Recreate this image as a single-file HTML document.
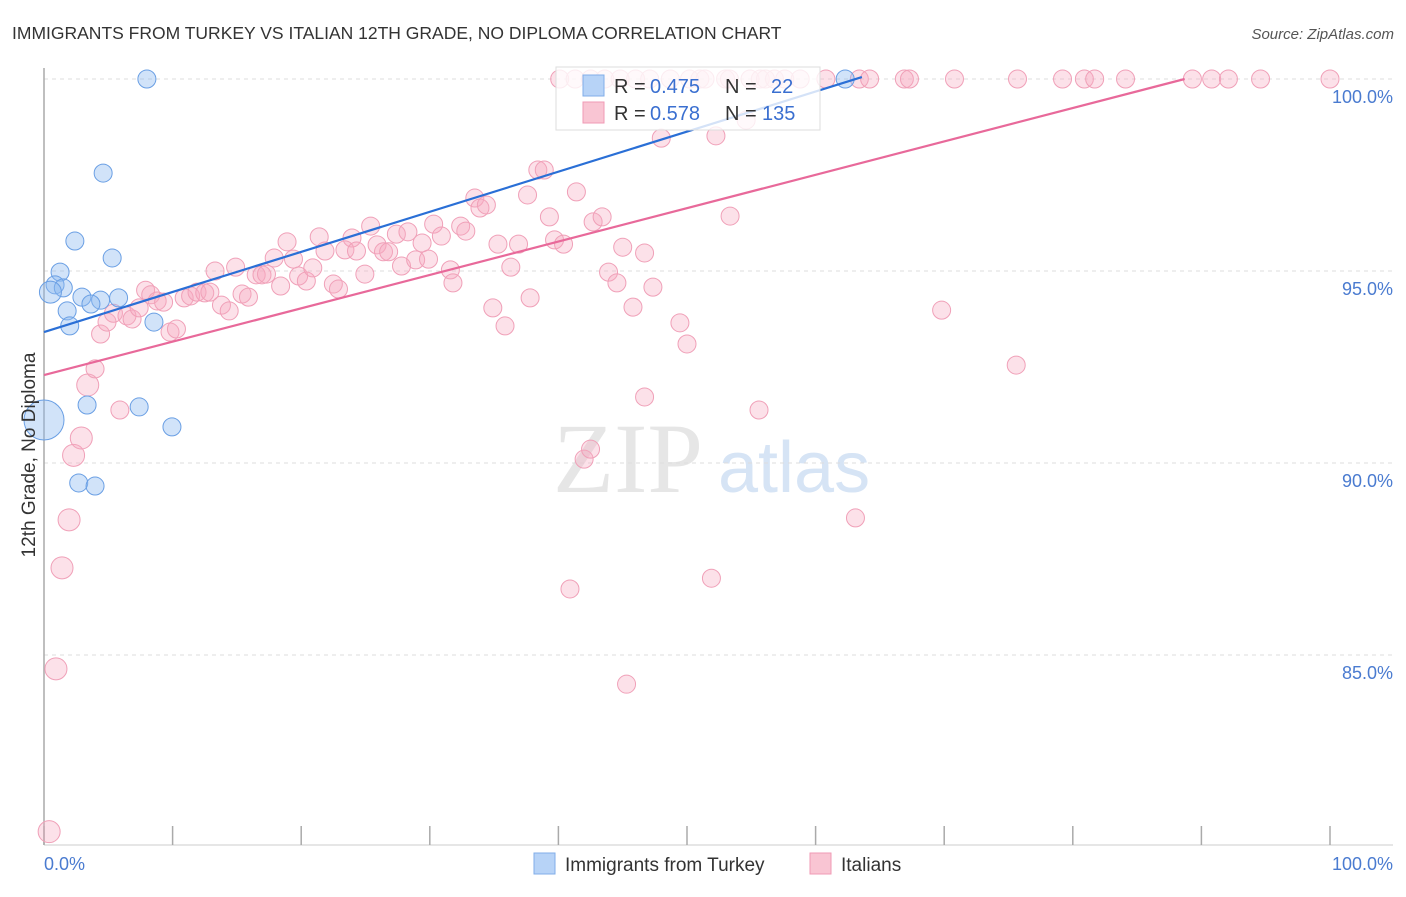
<!DOCTYPE html>
<html><head><meta charset="utf-8"><style>
body{margin:0;background:#fff;font-family:"Liberation Sans",sans-serif;}
</style></head><body>
<svg width="1406" height="892" xmlns="http://www.w3.org/2000/svg" style="font-family:'Liberation Sans',sans-serif">
<text x="12" y="39" font-size="17.5" fill="#333">IMMIGRANTS FROM TURKEY VS ITALIAN 12TH GRADE, NO DIPLOMA CORRELATION CHART</text>
<text x="1394" y="39" font-size="15" fill="#555" font-style="italic" text-anchor="end">Source: ZipAtlas.com</text>
<g>
<text x="553" y="492" font-size="100" font-family="'Liberation Serif',serif" fill="#e6e6e6">ZIP</text>
<text x="718" y="492" font-size="72" fill="#d6e4f5">atlas</text>
</g>
<g id="grid"></g>
<g id="axes"></g>
<g id="marks"></g>
<g>
<rect x="556" y="67" width="264" height="63" fill="#fff" fill-opacity="0.8" stroke="#ddd"/>
<rect x="583" y="75" width="21" height="21" fill="#b7d3f7" stroke="#80aee8"/>
<text x="614" y="93" font-size="20" fill="#333">R =</text>
<text x="650" y="93" font-size="20" fill="#3a6fd0">0.475</text>
<text x="725" y="93" font-size="20" fill="#333">N =</text>
<text x="771" y="93" font-size="20" fill="#3a6fd0">22</text>
<rect x="583" y="102" width="21" height="21" fill="#f9c5d3" stroke="#f09ab4"/>
<text x="614" y="120" font-size="20" fill="#333">R =</text>
<text x="650" y="120" font-size="20" fill="#3a6fd0">0.578</text>
<text x="725" y="120" font-size="20" fill="#333">N =</text>
<text x="762" y="120" font-size="20" fill="#3a6fd0">135</text>
</g>
<g>
<rect x="534" y="853" width="21" height="21" fill="#b7d3f7" stroke="#80aee8"/>
<text x="565" y="871" font-size="19" fill="#333">Immigrants from Turkey</text>
<rect x="810" y="853" width="21" height="21" fill="#f9c5d3" stroke="#f09ab4"/>
<text x="841" y="871" font-size="19" fill="#333">Italians</text>
</g>
<text transform="translate(35,455) rotate(-90)" font-size="19" fill="#333" text-anchor="middle">12th Grade, No Diploma</text>
</svg>
<script>
const yTicks=[100,95,90,85];
const yTickLabels=["100.0%","95.0%","90.0%","85.0%"];
const xTicks=[0,10,20,30,40,50,60,70,80,90,100];
const blueX=[8.0,4.6,2.4,5.3,1.25,0.86,1.5,0.5,2.95,4.4,5.8,3.65,1.8,2.0,8.55,3.35,7.4,9.95,0,2.7,3.97,62.3];
const blueY=[100,97.55,95.78,95.34,94.97,94.64,94.56,94.45,94.32,94.24,94.3,94.14,93.96,93.57,93.67,91.51,91.46,90.94,91.12,89.48,89.4,100];
const blueR=[9,9,9,9,9,9,9,11,9,9,9,9,9,9,9,9,9,9,20,9,9,9];
const pinkX=[0.4,0.93,1.4,1.95,2.3,2.9,3.4,3.97,4.4,4.9,5.4,5.9,6.45,6.85,7.4,7.9,8.3,8.8,9.3,9.8,10.3,10.9,11.4,11.9,12.5,12.9,13.3,13.8,14.4,14.9,15.4,15.9,16.5,16.95,17.3,17.9,18.4,18.9,19.4,19.8,20.4,20.9,21.4,21.85,22.5,22.9,23.95,23.4,24.3,24.95,25.4,25.9,26.4,26.8,27.4,27.8,28.3,28.9,29.4,29.9,30.3,30.9,31.6,31.8,32.4,32.8,33.5,33.9,34.4,34.9,35.3,35.85,36.3,36.9,37.6,37.8,38.4,38.9,39.3,39.7,40.4,41.4,42.0,42.5,40.9,42.7,43.4,43.9,44.55,45.0,45.8,46.7,46.7,47.35,45.3,48.0,49.45,50.0,51.9,52.25,53.35,54.6,55.6,63.1,69.8,75.6,
40.1,41.3,42.5,43.6,44.8,46.0,47.1,48.7,50.2,51.0,51.4,53.0,53.3,54.9,55.7,56.1,56.8,57.6,58.8,60.8,63.4,64.2,66.9,67.3,70.8,75.7,79.2,80.9,81.7,84.1,89.3,90.8,92.1,94.6,100];
const pinkY=[80.4,84.64,87.27,88.52,90.2,90.65,92.03,92.45,93.36,93.67,93.9,91.38,93.83,93.75,94.04,94.5,94.38,94.22,94.19,93.41,93.49,94.3,94.35,94.45,94.43,94.45,95.0,94.11,93.96,95.1,94.4,94.32,94.9,94.9,94.92,95.34,94.61,95.76,95.31,94.87,94.74,95.08,95.89,95.52,94.66,94.53,95.86,95.55,95.52,94.92,96.17,95.68,95.5,95.5,95.96,95.13,96.02,95.29,95.73,95.31,96.22,95.91,95.03,94.69,96.17,96.04,96.9,96.64,96.72,94.04,95.7,93.57,95.1,95.7,96.98,94.3,97.63,97.63,96.41,95.81,95.7,97.06,90.1,90.36,86.72,96.28,96.41,94.97,94.69,95.62,94.06,95.47,91.72,94.58,84.24,98.46,93.65,93.1,87.0,98.52,96.43,98.93,91.38,88.57,93.98,92.55,
100,100,100,100,100,100,100,100,100,100,100,100,100,100,100,100,100,100,100,100,100,100,100,100,100,100,100,100,100,100,100,100,100,100,100];
const blueLine=[[0,93.41],[63.6,100.05]];
const pinkLine=[[0,92.29],[88.7,100]];
const X=v=>44+v*12.86, Y=v=>79+(100-v)*38.4;
const NS="http://www.w3.org/2000/svg";
function mk(t,a,p){const e=document.createElementNS(NS,t);for(const k in a)e.setAttribute(k,a[k]);p.appendChild(e);return e;}
const grid=document.getElementById('grid'),axes=document.getElementById('axes'),marks=document.getElementById('marks');
yTicks.forEach((t,i)=>{
 const l=mk('line',{x1:44,x2:1393,y1:Y(t),y2:Y(t),stroke:'#ddd','stroke-dasharray':'4,4'},grid);
 
 
 const tx=mk('text',{x:1393,y:Y(t)+24,'font-size':18,fill:'#4a7bd0','text-anchor':'end'},axes);
 tx.textContent=yTickLabels[i];
 
 
});
const ax=mk('line',{x1:44,x2:44,y1:68,y2:845,stroke:'#aaa','stroke-width':1.5},axes);


const bx=mk('line',{x1:44,x2:1393,y1:845,y2:845,stroke:'#ccc'},axes);


xTicks.forEach(t=>{
 const l=mk('line',{x1:X(t),x2:X(t),y1:826,y2:845,stroke:'#aaa','stroke-width':1.5},axes);
 
 
});
[[0,'0.0%','start',44],[100,'100.0%','end',1393]].forEach(d=>{
 const t=mk('text',{x:d[3],y:870,'font-size':18,fill:'#4a7bd0','text-anchor':d[2]},axes);
 t.textContent=d[1];
 
 
});
pinkX.forEach((x,i)=>{
 const r=(x<3.5&&pinkY[i]<93)?11:9;
 const c=mk('circle',{cx:X(x),cy:Y(pinkY[i]),r:r,fill:'rgba(246,168,192,0.35)',stroke:'#f0a0b8','stroke-width':1},marks);
 
 
});
blueX.forEach((x,i)=>{
 const c=mk('circle',{cx:X(x),cy:Y(blueY[i]),r:blueR[i],fill:'rgba(140,185,240,0.4)',stroke:'#6a9fe4','stroke-width':1},marks);
 
 
});
const bl=mk('line',{x1:X(blueLine[0][0]),y1:Y(blueLine[0][1]),x2:X(blueLine[1][0]),y2:Y(blueLine[1][1]),stroke:'#2a6fd6','stroke-width':2.2},marks);


const pl=mk('line',{x1:X(pinkLine[0][0]),y1:Y(pinkLine[0][1]),x2:X(pinkLine[1][0]),y2:Y(pinkLine[1][1]),stroke:'#e8699a','stroke-width':2.2},marks);


</script>
</body></html>
